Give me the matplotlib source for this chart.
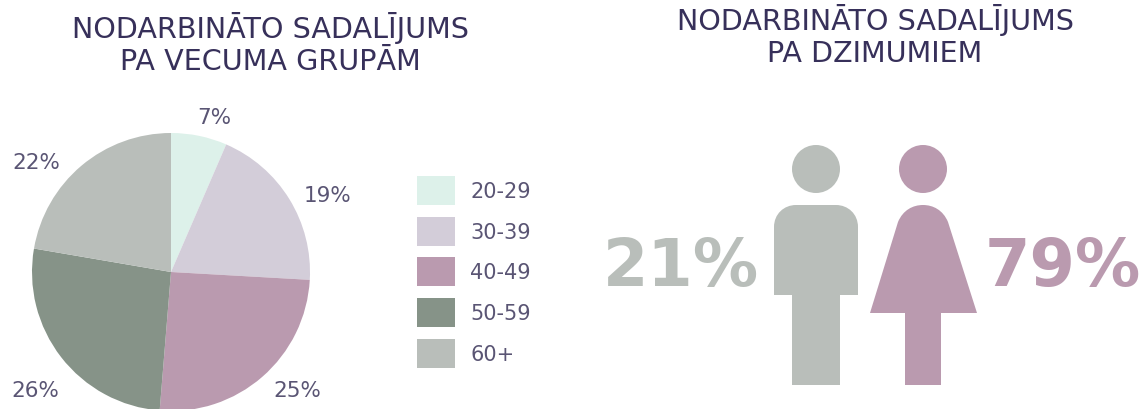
import matplotlib
matplotlib.use('Agg')
import matplotlib.pyplot as plt
from matplotlib.patches import Circle, PathPatch, Rectangle
from matplotlib.path import Path

age_groups = ['20-29', '30-39', '40-49', '50-59', '60+']
age_values = [6.5, 19.4, 25.4, 26.4, 22.3]
age_labels = ['7%', '19%', '25%', '26%', '22%']
age_colors = ['#DDF1EA', '#D3CDD9', '#BA9AAF', '#869388', '#B9BEBA']
gender_values = [21, 79]

W, H = 1148, 410
TITLE_COLOR = '#37305A'
LABEL_COLOR = '#5A5574'
MAN_COLOR = '#B9BEBA'
WOMAN_COLOR = '#BA9AAF'


def flip(y):
    # coordinates below are read top-down, like the picture
    return H - y - 1


def draw_man(ax, cx):
    verts = [(cx - 42, 295), (cx - 42, 227), (cx - 42, 214), (cx - 32, 205), (cx - 20, 205),
             (cx + 20, 205), (cx + 32, 205), (cx + 42, 214), (cx + 42, 227),
             (cx + 42, 295), (cx + 24, 295), (cx + 24, 385), (cx - 24, 385), (cx - 24, 295),
             (cx - 42, 295)]
    codes = [Path.MOVETO, Path.LINETO, Path.CURVE4, Path.CURVE4, Path.CURVE4,
             Path.LINETO, Path.CURVE4, Path.CURVE4, Path.CURVE4,
             Path.LINETO, Path.LINETO, Path.LINETO, Path.LINETO, Path.LINETO,
             Path.CLOSEPOLY]
    verts = [(x, flip(y)) for x, y in verts]
    ax.add_patch(PathPatch(Path(verts, codes), fc=MAN_COLOR, ec='none'))
    ax.add_patch(Circle((cx, flip(169)), 24, fc=MAN_COLOR, ec='none'))


def draw_woman(ax, cx):
    verts = [(cx - 53, 313), (cx - 25, 222), (cx - 20, 210), (cx - 10, 205), (cx, 205),
             (cx + 10, 205), (cx + 20, 210), (cx + 25, 222),
             (cx + 54, 313), (cx + 18, 313), (cx + 18, 385), (cx - 18, 385), (cx - 18, 313),
             (cx - 53, 313)]
    codes = [Path.MOVETO, Path.LINETO, Path.CURVE4, Path.CURVE4, Path.CURVE4,
             Path.CURVE4, Path.CURVE4, Path.CURVE4,
             Path.LINETO, Path.LINETO, Path.LINETO, Path.LINETO, Path.LINETO,
             Path.CLOSEPOLY]
    verts = [(x, flip(y)) for x, y in verts]
    ax.add_patch(PathPatch(Path(verts, codes), fc=WOMAN_COLOR, ec='none'))
    ax.add_patch(Circle((cx, flip(169)), 24, fc=WOMAN_COLOR, ec='none'))


fig = plt.figure(figsize=(W / 100, H / 100), dpi=100)
ax = fig.add_axes([0, 0, 1, 1])

ax.pie(age_values, colors=age_colors, center=(171, flip(272)), radius=139,
       startangle=90, counterclock=False, frame=True)
ax.set_xlim(0, W)
ax.set_ylim(0, H)
ax.set_aspect('equal')
ax.axis('off')

# pie percent labels
label_pos = [(214, 117), (328, 195), (297, 390), (35, 390), (36, 162)]
for lab, (x, y) in zip(age_labels, label_pos):
    ax.text(x, flip(y), lab, color=LABEL_COLOR, fontsize=15.5, ha='center', va='center')

# legend
for i, (name, color) in enumerate(zip(age_groups, age_colors)):
    top = 176 + i * 40.7
    ax.add_patch(Rectangle((417, flip(top + 29)), 38, 29, fc=color, ec='none'))
    ax.text(470, flip(top + 15), name, color=LABEL_COLOR, fontsize=15, ha='left', va='center')

# titles
ax.text(270, flip(43), 'NODARBINĀTO SADALĪJUMS\nPA VECUMA GRUPĀM', color=TITLE_COLOR,
        fontsize=20.6, ha='center', va='center', linespacing=1.15)
ax.text(875, flip(35), 'NODARBINĀTO SADALĪJUMS\nPA DZIMUMIEM', color=TITLE_COLOR,
        fontsize=20.6, ha='center', va='center', linespacing=1.15)

# gender figures
draw_man(ax, 816)
draw_woman(ax, 923)
ax.text(681, flip(267), f'{gender_values[0]}%', color=MAN_COLOR, fontsize=47,
        fontweight='bold', ha='center', va='center')
ax.text(1063, flip(267), f'{gender_values[1]}%', color=WOMAN_COLOR, fontsize=47,
        fontweight='bold', ha='center', va='center')

fig.savefig('out.png', dpi=100)
